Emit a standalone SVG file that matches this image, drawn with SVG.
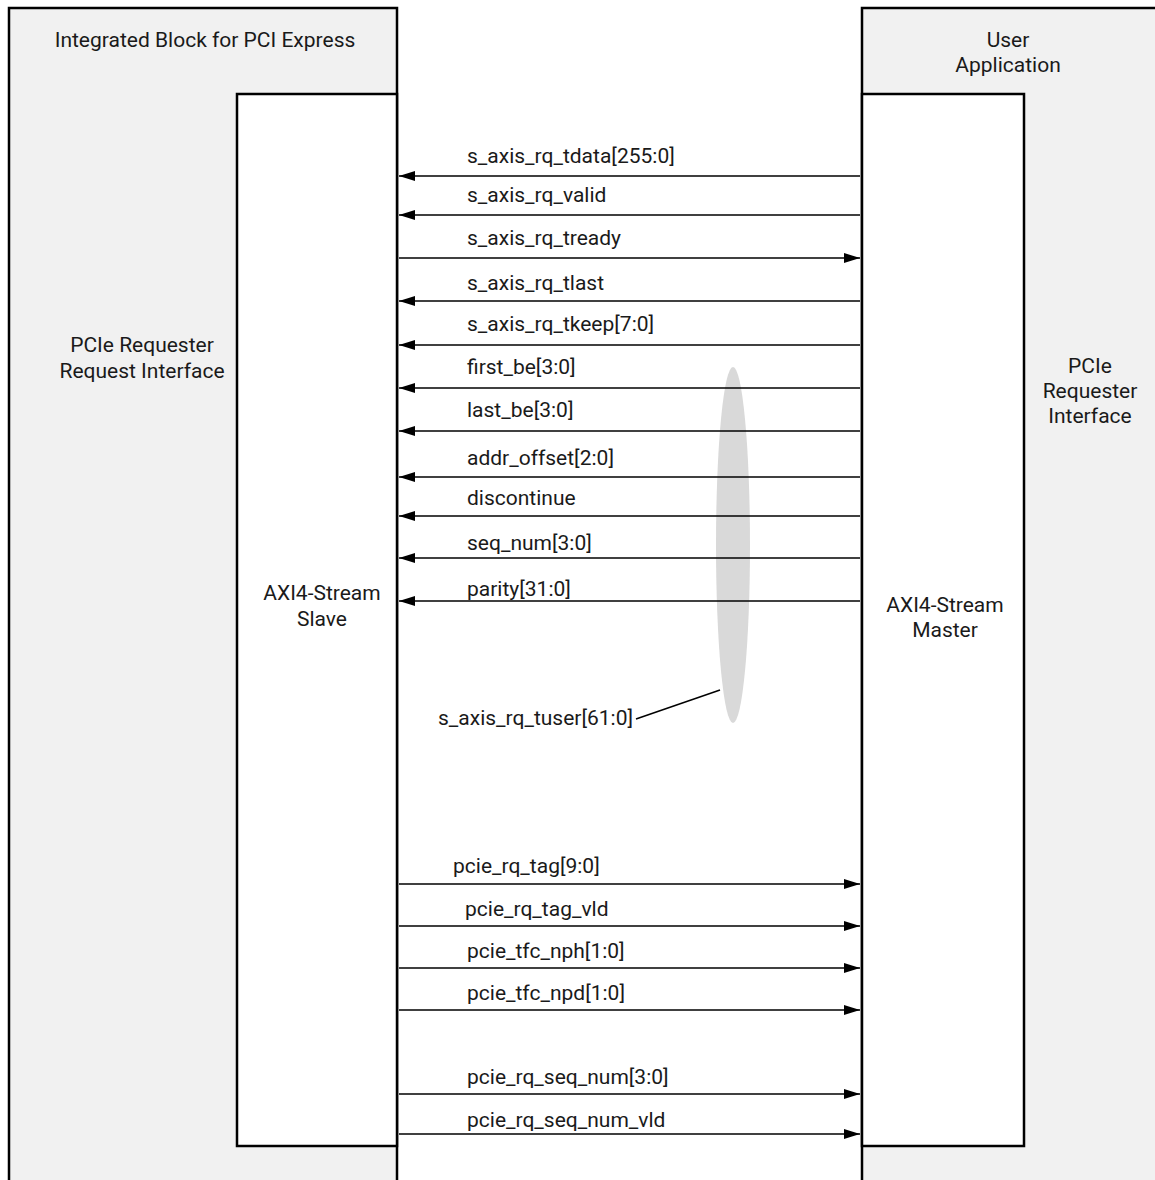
<svg xmlns="http://www.w3.org/2000/svg" width="1155" height="1180" viewBox="0 0 1155 1180">
<style>
.blk{fill:#f1f1f1;stroke:#000;stroke-width:2.5}
.inr{fill:#fff;stroke:#000;stroke-width:2.5}
text{font-family:Roboto,"Liberation Sans",sans-serif;font-size:21px;fill:#1a1a1a}
.c{text-anchor:middle}
.w{stroke:#000;stroke-width:1.5;fill:none}
</style>
<defs>
<marker id="ah" viewBox="0 0 16 10" refX="16" refY="5" markerWidth="16" markerHeight="10" markerUnits="userSpaceOnUse" orient="auto">
<path d="M0,0 L16,5 L0,10 Z" fill="#000"/>
</marker>
</defs>
<rect width="1155" height="1180" fill="#fff"/>
<g id="pcie-block">
<rect class="blk" x="9" y="8" width="388" height="1190"/>
<text class="c" x="205" y="47">Integrated Block for PCI Express</text>
<text class="c" x="142" y="352">PCIe Requester</text>
<text class="c" x="142" y="378">Request Interface</text>
</g>
<g id="axi-slave">
<rect class="inr" x="237" y="94" width="160" height="1052"/>
<text class="c" x="322" y="600">AXI4-Stream</text>
<text class="c" x="322" y="626">Slave</text>
</g>
<g id="user-app">
<rect class="blk" x="862" y="8" width="295" height="1190"/>
<text class="c" x="1008" y="47">User</text>
<text class="c" x="1008" y="72">Application</text>
<text class="c" x="1090" y="373">PCIe</text>
<text class="c" x="1090" y="398">Requester</text>
<text class="c" x="1090" y="423">Interface</text>
</g>
<g id="axi-master">
<rect class="inr" x="862" y="94" width="162" height="1052"/>
<text class="c" x="945" y="612">AXI4-Stream</text>
<text class="c" x="945" y="637">Master</text>
</g>
<g id="tuser-bundle">
<ellipse cx="733" cy="545" rx="17" ry="178" fill="#d9d9d9"/>
</g>
<g id="connectors">
<path class="w" marker-end="url(#ah)" d="M860,176 H399"/>
<path class="w" marker-end="url(#ah)" d="M860,215 H399"/>
<path class="w" marker-end="url(#ah)" d="M399,258 H860"/>
<path class="w" marker-end="url(#ah)" d="M860,301 H399"/>
<path class="w" marker-end="url(#ah)" d="M860,345 H399"/>
<path class="w" marker-end="url(#ah)" d="M860,388 H399"/>
<path class="w" marker-end="url(#ah)" d="M860,431 H399"/>
<path class="w" marker-end="url(#ah)" d="M860,477 H399"/>
<path class="w" marker-end="url(#ah)" d="M860,516 H399"/>
<path class="w" marker-end="url(#ah)" d="M860,558 H399"/>
<path class="w" marker-end="url(#ah)" d="M860,601 H399"/>
<path class="w" marker-end="url(#ah)" d="M399,884 H860"/>
<path class="w" marker-end="url(#ah)" d="M399,926 H860"/>
<path class="w" marker-end="url(#ah)" d="M399,968 H860"/>
<path class="w" marker-end="url(#ah)" d="M399,1010 H860"/>
<path class="w" marker-end="url(#ah)" d="M399,1094 H860"/>
<path class="w" marker-end="url(#ah)" d="M399,1134 H860"/>
<path class="w" d="M636,719 L720,690"/>
<text x="467" y="163">s_axis_rq_tdata[255:0]</text>
<text x="467" y="202">s_axis_rq_valid</text>
<text x="467" y="245">s_axis_rq_tready</text>
<text x="467" y="290">s_axis_rq_tlast</text>
<text x="467" y="331">s_axis_rq_tkeep[7:0]</text>
<text x="467" y="374">first_be[3:0]</text>
<text x="467" y="417">last_be[3:0]</text>
<text x="467" y="465">addr_offset[2:0]</text>
<text x="467" y="505">discontinue</text>
<text x="467" y="550">seq_num[3:0]</text>
<text x="467" y="596">parity[31:0]</text>
<text x="438" y="725">s_axis_rq_tuser[61:0]</text>
<text x="453" y="873">pcie_rq_tag[9:0]</text>
<text x="465" y="916">pcie_rq_tag_vld</text>
<text x="467" y="958">pcie_tfc_nph[1:0]</text>
<text x="467" y="1000">pcie_tfc_npd[1:0]</text>
<text x="467" y="1084">pcie_rq_seq_num[3:0]</text>
<text x="467" y="1127">pcie_rq_seq_num_vld</text>
</g>
</svg>
